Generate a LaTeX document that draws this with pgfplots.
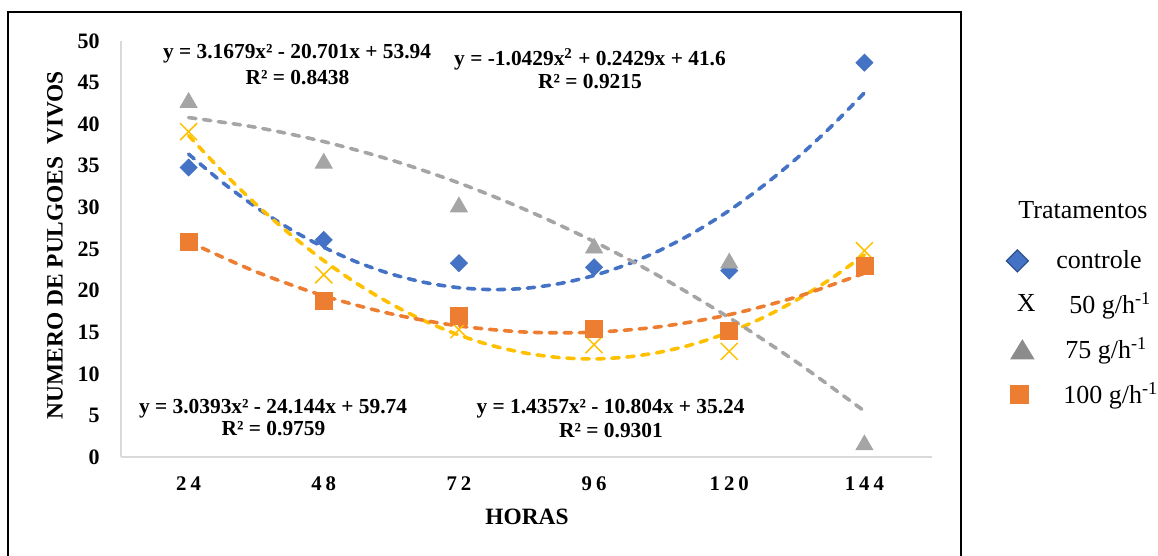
\documentclass[border=0pt]{standalone}
\usepackage{fontspec}
\setmainfont{Liberation Serif}
\usepackage{pgfplots}
\pgfplotsset{compat=1.18}
\definecolor{cblue}{HTML}{4472C4}
\definecolor{cbluedark}{HTML}{2F528F}
\definecolor{cyel}{HTML}{FFC000}
\definecolor{cgray}{HTML}{A5A5A5}
\definecolor{corange}{HTML}{ED7D31}
\definecolor{axgray}{HTML}{D9D9D9}
\begin{document}
\begin{tikzpicture}
\useasboundingbox (0pt,0pt) rectangle (579pt,-278pt);
\begin{axis}[
  at={(60.5pt,-228.5pt)}, anchor=south west,
  scale only axis, width=405.5pt, height=208pt,
  xmin=12, xmax=156, ymin=0, ymax=50,
  axis x line*=bottom, axis y line*=left,
  axis line style={axgray, line width=0.75pt, -},
  xtick={24,48,72,96,120,144},
  xticklabels={2\kern2pt 4, 4\kern2pt 8, 7\kern2pt 2, 9\kern2pt 6, 1\kern2pt 2\kern2pt 0, 1\kern2pt 4\kern2pt 4},
  ytick={0,5,...,50},
  major tick length=0pt,
  /pgf/number format/assume math mode=true,
  xticklabel style={font=\fontsize{10.4}{12}\selectfont\bfseries, anchor=center, yshift=-13.4pt},
  yticklabel style={font=\fontsize{11}{12}\selectfont\bfseries, anchor=east, inner sep=0pt, xshift=-10.5pt},
  xlabel={HORAS}, ylabel={NUMERO DE PULGOES\ \ VIVOS},
  label style={font=\fontsize{11.7}{13}\selectfont\bfseries},
  xlabel style={at={(axis description cs:0.5006,-0.144)}, anchor=center},
  ylabel style={at={(axis description cs:-0.0814,0.5096)}, anchor=center},
  clip=false,
  legend style={at={(axis description cs:1.0838,0.5072)}, anchor=north west, draw=none, fill=none,
    inner sep=0pt, row sep=6.6pt, column sep=6pt, font=\fontsize{13}{15}\selectfont},
  legend cell align=left,
]
% data points
\addplot[only marks, mark=square*, mark size=3pt, mark options={rotate=45, draw=cblue, fill=cblue},
  legend image code/.code={\path[draw=none,fill=none] (0pt,-6pt) rectangle (20pt,6pt);
    \draw[draw=cbluedark, fill=cblue, line width=0.6pt] (3pt,0pt) -- (8.5pt,5.5pt) -- (14pt,0pt) -- (8.5pt,-5.5pt) -- cycle;}]
  coordinates {(24,34.8)(48,26.1)(72,23.3)(96,22.8)(120,22.4)(144,47.4)};
\addlegendentry{controle}
\addplot[only marks, mark=x, mark size=6pt, mark options={draw=cyel, line width=0.75pt},
  legend image code/.code={\path[draw=none,fill=none] (0pt,-6pt) rectangle (20pt,6pt);
    \node[inner sep=0pt, anchor=center, draw=none, font=\fontsize{13}{15}\selectfont, text=black] at (13pt,0pt) {X};}]
  coordinates {(24,39.1)(48,21.9)(72,15.3)(96,13.5)(120,12.7)(144,24.8)};
\addlegendentry{\hspace*{6.5pt}50 g/h\textsuperscript{-1}}
\addplot[only marks, mark=triangle*, mark size=4.9pt, mark options={draw=cgray, fill=cgray},
  legend image code/.code={\path[draw=none,fill=none] (0pt,-6pt) rectangle (20pt,6pt);
    \fill[cgray!85!black] (5.25pt,-4.75pt) -- (16.75pt,-4.75pt) -- (11pt,4.75pt) -- cycle;}]
  coordinates {(24,42.6)(48,35.3)(72,30.05)(96,25.1)(120,23.3)(144,1.45)};
\addlegendentry{\hspace*{4.5pt}75 g/h\textsuperscript{-1}}
\addplot[only marks, mark=square*, mark size=4.25pt, mark options={draw=corange, fill=corange},
  legend image code/.code={\path[draw=none,fill=none] (0pt,-6pt) rectangle (20pt,6pt);
    \fill[corange] (5pt,-4.5pt) rectangle (14pt,4.5pt);}]
  coordinates {(24,25.8)(48,18.8)(72,16.9)(96,15.4)(120,15.2)(144,23.0)};
\addlegendentry{\hspace*{3.5pt}100 g/h\textsuperscript{-1}}
% polynomial trend lines (values of the fitted curves)
\pgfplotsset{trend/.style={smooth, line width=1.8pt, line cap=round, dash pattern=on 3.7pt off 3.8pt, forget plot}}
\addplot[trend, cblue] coordinates {(24,36.41)(30,33.01)(36,30.02)(42,27.41)(48,25.21)(54,23.40)(60,21.99)(66,20.97)(72,20.35)(78,20.12)(84,20.29)(90,20.86)(96,21.82)(102,23.18)(108,24.94)(114,27.09)(120,29.63)(126,32.58)(132,35.91)(138,39.65)(144,43.78)};
\addplot[trend, cyel] coordinates {(24,38.64)(30,34.31)(36,30.36)(42,26.80)(48,23.61)(54,20.80)(60,18.38)(66,16.33)(72,14.66)(78,13.37)(84,12.47)(90,11.94)(96,11.79)(102,12.03)(108,12.64)(114,13.63)(120,15.00)(126,16.75)(132,18.89)(138,21.40)(144,24.29)};
\addplot[trend, cgray] coordinates {(24,40.80)(36,39.62)(48,37.91)(60,35.69)(72,32.94)(84,29.67)(96,25.89)(108,21.57)(120,16.74)(132,11.39)(144,5.51)};
\addplot[trend, corange] coordinates {(24,25.87)(36,22.26)(48,19.37)(60,17.20)(72,15.75)(84,15.01)(96,15.00)(108,15.69)(120,17.11)(132,19.25)(144,22.10)};
\end{axis}
\begin{scope}[x=0.5pt,y=-0.5pt]
\draw[line width=1pt, black] (8,557) -- (8,12) -- (961,12) -- (961,557);
\begin{scope}[every node/.style={font=\fontsize{10.7}{12.5}\selectfont\bfseries, anchor=base, inner sep=0pt}]
\node at (297,59) {y = 3.1679x² - 20.701x + 53.94};
\node at (297.5,85) {R² = 0.8438};
\node at (590,66) {y = -1.0429x\textsuperscript{2} + 0.2429x + 41.6};
\node at (590,89) {R² = 0.9215};
\node at (273,413) {y = 3.0393x² - 24.144x + 59.74};
\node at (273.5,435) {R² = 0.9759};
\node at (610.5,413) {y = 1.4357x² - 10.804x + 35.24};
\node at (611,437) {R² = 0.9301};
\end{scope}
\node[font=\fontsize{13}{15}\selectfont, anchor=base, inner sep=0pt] at (1083,219) {Tratamentos};
\end{scope}
\end{tikzpicture}
\end{document}
